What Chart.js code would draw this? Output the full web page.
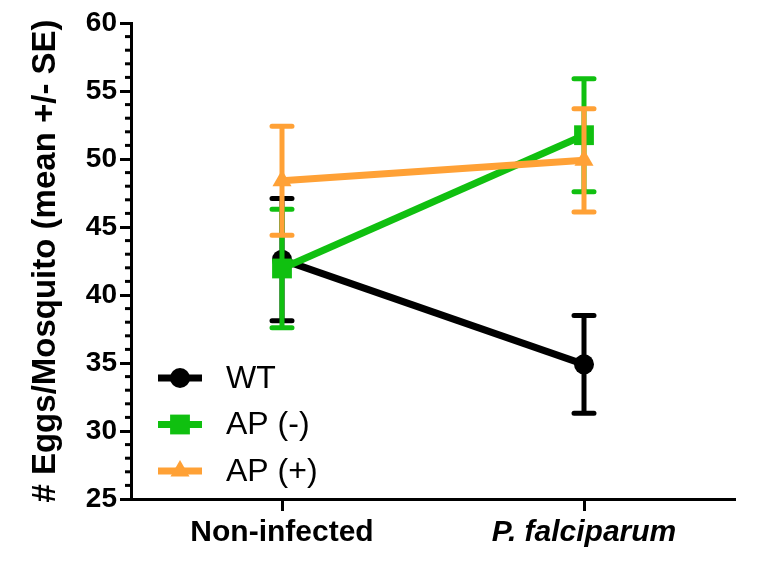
<!DOCTYPE html>
<html><head><meta charset="utf-8">
<script src="https://cdn.jsdelivr.net/npm/chart.js@4/dist/chart.umd.min.js"></script>
<style>html,body{margin:0;padding:0;background:#fff}#wrap{width:762px;height:580px;position:relative}</style>
</head><body><div id="wrap"><canvas id="c"></canvas></div>
<script>
// ---- data ----
const categories = ['Non-infected', 'P. falciparum'];
const categoryItalic = [false, true];
const seriesNames = ['WT', 'AP (-)', 'AP (+)'];
const wtMean = [42.6, 34.9];
const wtSE = [4.5, 3.6];
const apMinusMean = [41.95, 51.75];
const apMinusSE = [4.35, 4.15];
const apPlusMean = [48.4, 49.9];
const apPlusSE = [4.0, 3.8];
const yMin = 25, yMax = 60, yMajorStep = 5, yMinorStep = 1;
const yTitle = '# Eggs/Mosquito (mean +/- SE)';

const FONT = "'Liberation Sans', Arial, sans-serif";
const colors = ['#000000', '#10c010', '#ffa136'];
const styles = ['circle', 'rect', 'triangle'];
const radii = [10, 14, 11];

function drawMarker(ctx, style, x, y, r) {
  ctx.beginPath();
  if (style === 'circle') {
    ctx.arc(x, y, r, 0, Math.PI * 2);
  } else if (style === 'rect') {
    const s = r * Math.SQRT1_2;
    ctx.rect(x - s, y - s, 2 * s, 2 * s);
  } else {
    let a = 0;
    ctx.moveTo(x + Math.sin(a) * r, y - Math.cos(a) * r);
    a += 2 * Math.PI / 3;
    ctx.lineTo(x + Math.sin(a) * r, y - Math.cos(a) * r);
    a += 2 * Math.PI / 3;
    ctx.lineTo(x + Math.sin(a) * r, y - Math.cos(a) * r);
    ctx.closePath();
  }
  ctx.fill();
}

const errorBars = {
  id: 'errorBars',
  beforeDatasetDraw(chart, args) {
    const ds = chart.data.datasets[args.index];
    const meta = args.meta;
    const ys = chart.scales.y;
    const ctx = chart.ctx;
    ctx.save();
    ctx.strokeStyle = ds.borderColor;
    ctx.lineWidth = 5;
    ctx.lineCap = 'round';
    meta.data.forEach((pt, i) => {
      const m = ds.data[i], se = ds.se[i];
      const yHi = ys.getPixelForValue(m + se);
      const yLo = ys.getPixelForValue(m - se);
      const x = pt.x;
      ctx.beginPath();
      ctx.moveTo(x, yHi); ctx.lineTo(x, yLo);
      ctx.moveTo(x - 10, yHi); ctx.lineTo(x + 10, yHi);
      ctx.moveTo(x - 10, yLo); ctx.lineTo(x + 10, yLo);
      ctx.stroke();
    });
    ctx.restore();
  }
};

const minorTicks = {
  id: 'minorTicks',
  afterDraw(chart) {
    const ys = chart.scales.y;
    const ctx = chart.ctx;
    const x0 = chart.chartArea.left;
    ctx.save();
    ctx.strokeStyle = '#000';
    ctx.lineWidth = 3;
    ys.ticks.forEach(t => {
      if (t.value % yMajorStep !== 0) {
        const y = ys.getPixelForValue(t.value);
        ctx.beginPath();
        ctx.moveTo(x0 - 6, y); ctx.lineTo(x0, y);
        ctx.stroke();
      }
    });
    ctx.restore();
  }
};

const insideLegend = {
  id: 'insideLegend',
  afterDraw(chart) {
    const ctx = chart.ctx;
    const a = chart.chartArea;
    ctx.save();
    ctx.font = '32px ' + FONT;
    ctx.textBaseline = 'middle';
    chart.data.datasets.forEach((ds, i) => {
      const y = a.bottom - 121 + i * 46.5;
      const xl = a.left + 27, xr = a.left + 71, xm = (xl + xr) / 2;
      ctx.strokeStyle = ds.borderColor;
      ctx.fillStyle = ds.borderColor;
      ctx.lineWidth = 7;
      ctx.beginPath(); ctx.moveTo(xl, y); ctx.lineTo(xr, y); ctx.stroke();
      drawMarker(ctx, ds.pointStyle, xm, y, ds.pointRadius);
      ctx.fillStyle = '#000';
      ctx.fillText(ds.label, a.left + 95, y + 1);
    });
    ctx.restore();
  }
};

const means = [wtMean, apMinusMean, apPlusMean];
const ses = [wtSE, apMinusSE, apPlusSE];
const datasets = seriesNames.map((name, i) => ({
  label: name,
  data: means[i],
  se: ses[i],
  borderColor: colors[i],
  backgroundColor: colors[i],
  borderWidth: 7,
  pointStyle: styles[i],
  pointRadius: radii[i],
  pointBorderWidth: 0,
  pointBackgroundColor: colors[i],
  order: 2 - i,
  tension: 0
}));

new Chart(document.getElementById('c'), {
  type: 'line',
  data: { labels: categories, datasets },
  options: {
    responsive: true,
    maintainAspectRatio: false,
    animation: false,
    events: [],
    layout: { padding: { top: 23, right: 27, left: 0, bottom: 0 } },
    plugins: { legend: { display: false }, tooltip: { enabled: false } },
    scales: {
      x: {
        offset: true,
        grid: { drawOnChartArea: false, offset: false, tickLength: 12, tickWidth: 3, tickColor: '#000' },
        border: { display: true, color: '#000', width: 3 },
        ticks: {
          color: '#000', padding: 4,
          font: (c) => ({ family: FONT, size: 30, weight: 'bold', style: categoryItalic[c.index] ? 'italic' : 'normal' })
        },
        afterFit(s) { s.height = 81; }
      },
      y: {
        min: yMin, max: yMax,
        grid: {
          drawOnChartArea: false, tickLength: 11, tickWidth: 3,
          tickColor: (c) => (c.tick && c.tick.value % yMajorStep === 0) ? '#000' : 'rgba(0,0,0,0)'
        },
        border: { display: true, color: '#000', width: 3 },
        ticks: {
          stepSize: yMinorStep, autoSkip: false, color: '#000', padding: 3,
          font: { family: FONT, size: 28, weight: 'bold' },
          callback: (v) => (v % yMajorStep === 0 ? String(v) : '')
        },
        title: {
          display: true, text: yTitle, color: '#000',
          font: { family: FONT, size: 33, weight: 'bold' },
          padding: { top: 26, bottom: 0 }
        },
        afterFit(s) { s.width = 131; }
      }
    }
  },
  plugins: [errorBars, minorTicks, insideLegend]
});
</script>
</body></html>
